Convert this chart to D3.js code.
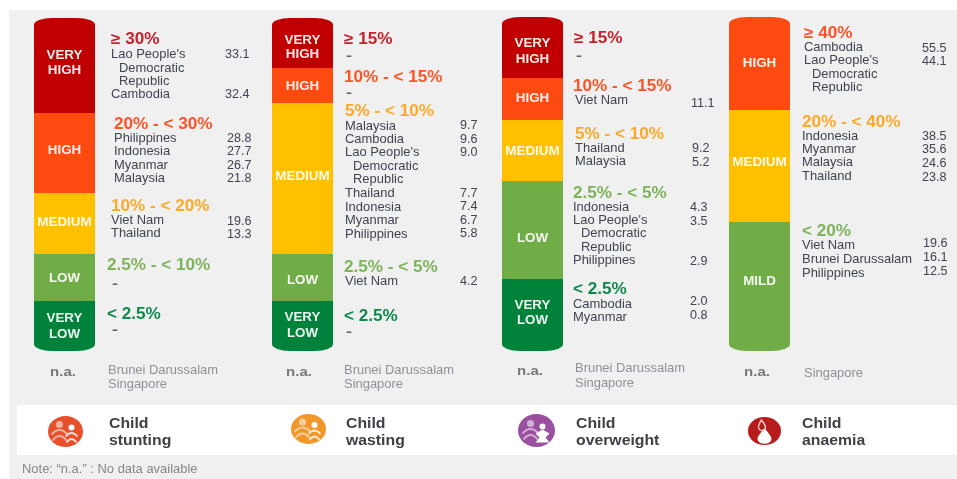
<!DOCTYPE html>
<html><head><meta charset="utf-8">
<script src="https://cdn.jsdelivr.net/npm/d3@7"></script>
<style>
html,body{margin:0;padding:0;background:#fff}
svg{display:block;filter:blur(0.45px)}
text{font-family:"Liberation Sans",Arial,sans-serif}
</style></head><body><div id="c"></div>
<script>
// ---------- data ----------
const LAO = "Lao People's";
const stuntingLevels = ["VERY HIGH","HIGH","MEDIUM","LOW","VERY LOW"];
const stuntingRanges = ["≥ 30%","20% - < 30%","10% - < 20%","2.5% - < 10%","< 2.5%"];
const stuntingCountries = [[LAO,"Cambodia"],["Philippines","Indonesia","Myanmar","Malaysia"],["Viet Nam","Thailand"],[],[]];
const stuntingValues = [[33.1,32.4],[28.8,27.7,26.7,21.8],[19.6,13.3],[],[]];
const stuntingNA = ["Brunei Darussalam","Singapore"];

const wastingLevels = ["VERY HIGH","HIGH","MEDIUM","LOW","VERY LOW"];
const wastingRanges = ["≥ 15%","10% - < 15%","5% - < 10%","2.5% - < 5%","< 2.5%"];
const wastingCountries = [[],[],["Malaysia","Cambodia",LAO,"Thailand","Indonesia","Myanmar","Philippines"],["Viet Nam"],[]];
const wastingValues = [[],[],[9.7,9.6,9.0,7.7,7.4,6.7,5.8],[4.2],[]];
const wastingNA = ["Brunei Darussalam","Singapore"];

const overweightLevels = ["VERY HIGH","HIGH","MEDIUM","LOW","VERY LOW"];
const overweightRanges = ["≥ 15%","10% - < 15%","5% - < 10%","2.5% - < 5%","< 2.5%"];
const overweightCountries = [[],["Viet Nam"],["Thailand","Malaysia"],["Indonesia",LAO,"Philippines"],["Cambodia","Myanmar"]];
const overweightValues = [[],[11.1],[9.2,5.2],[4.3,3.5,2.9],[2.0,0.8]];
const overweightNA = ["Brunei Darussalam","Singapore"];

const anaemiaLevels = ["HIGH","MEDIUM","MILD"];
const anaemiaRanges = ["≥ 40%","20% - < 40%","< 20%"];
const anaemiaCountries = [["Cambodia",LAO],["Indonesia","Myanmar","Malaysia","Thailand"],["Viet Nam","Brunei Darussalam","Philippines"]];
const anaemiaValues = [[55.5,44.1],[38.5,35.6,24.6,23.8],[19.6,16.1,12.5]];
const anaemiaNA = ["Singapore"];

const indicatorNames = [["Child","stunting"],["Child","wasting"],["Child","overweight"],["Child","anaemia"]];
const laoContinuation = ["Democratic","Republic"];
const naLabel = "n.a.";
const noteText = "Note: “n.a.” : No data available";

// ---------- layout & style (not data) ----------
const W = 957, H = 479;
const levelFill = {"VERY HIGH":"#c00000","HIGH":"#fc4a10","MEDIUM":"#ffc000","LOW":"#70ad47","MILD":"#70ad47","VERY LOW":"#00823b"};
const headFill = {"VERY HIGH":"#c9202c","HIGH":"#fb5527","MEDIUM":"#fca92a","LOW":"#7db35a","MILD":"#7db35a","VERY LOW":"#0d8a4c"};
const panels = [
 {levels:stuntingLevels,ranges:stuntingRanges,countries:stuntingCountries,values:stuntingValues,na:stuntingNA,
  barX:34,edges:[18,113,193,254,301,351],naCx:63,naY:372,naX:108,naYs:[370,384],
  labelYs:[[54,69],[149],[221],[277],[317,333]],
  heads:[[111,38],[114,123],[111,205],[107,264],[107,313.5]],
  rowX:[111,114,111,111,111],valXs:[225,227,227,0,0],
  rowYs:[[54,94],[138,151,165,178],[220,233],[],[]],valYs:[[54,94],[138,151,165,178],[221,234],[],[]],dashYs:[0,0,0,284,330],
  icon:{cx:65.5,cy:431.5,rx:17.5,ry:15.5,fill:"#e8502c",kind:"child"},nameX:109},
 {levels:wastingLevels,ranges:wastingRanges,countries:wastingCountries,values:wastingValues,na:wastingNA,
  barX:272,edges:[18,68,103,254,301,351],naCx:299,naY:372,naX:344,naYs:[370,384],
  labelYs:[[39,53],[85],[175],[279],[316,332]],
  heads:[[344,38],[344,76],[345,110],[344,266],[344,315]],
  rowX:[345,345,345,345,345],valXs:[0,0,460,460,0],
  rowYs:[[],[],[126,139,152,193,207,220,234],[280.5],[]],valYs:[[],[],[124.5,138.5,152,193,206,219.5,233],[280.5],[]],dashYs:[56,93,0,0,332],
  icon:{cx:308.5,cy:429,rx:17.5,ry:15,fill:"#f2962a",kind:"child"},nameX:346},
 {levels:overweightLevels,ranges:overweightRanges,countries:overweightCountries,values:overweightValues,na:overweightNA,
  barX:502,edges:[17,78,120,181,279,351],naCx:530,naY:371,naX:575,naYs:[368,383],
  labelYs:[[42,58],[97],[150],[237],[304,319]],
  heads:[[574,37],[573,85],[575,133],[573,192],[573,288]],
  rowX:[575,575,575,573,573],valXs:[0,691,692,690,690],
  rowYs:[[],[99.5],[147.5,161],[206.5,219.5,260],[303.5,317]],valYs:[[],[103],[148,162],[207,221,261],[301,314.5]],dashYs:[56,0,0,0,0],
  icon:{cx:536.5,cy:430.5,rx:18.5,ry:16.5,fill:"#9b4f9f",kind:"solid"},nameX:576},
 {levels:anaemiaLevels,ranges:anaemiaRanges,countries:anaemiaCountries,values:anaemiaValues,na:anaemiaNA,
  barX:729,edges:[17,110,222,351],naCx:757,naY:372,naX:804,naYs:[373],
  labelYs:[[62],[161],[280]],
  heads:[[804,32],[802,121],[802,230]],
  rowX:[804,802,802],valXs:[922,922,923],
  rowYs:[[46.5,60],[135.5,149,162,175.5],[245,258.5,273]],valYs:[[47.5,61],[135.5,149,163,176.5],[242.5,257,271]],dashYs:[0,0,0],
  icon:{cx:764.5,cy:431,rx:16.5,ry:14,fill:"#b71c1c",kind:"drop"},nameX:802}
];
const barW = 61;
const textCol = "#3f4452";

const svg = d3.select("#c").append("svg").attr("width",W).attr("height",H);
svg.append("rect").attr("x",9).attr("y",10).attr("width",W-9).attr("height",H-10).attr("fill","#f0f0f0");
svg.append("rect").attr("x",17).attr("y",405).attr("width",W-17).attr("height",50).attr("fill","#fff");

const defs = svg.append("defs");

// sx: the source picture is slightly stretched sideways, so glyphs are widened rather than spaced
function txt(g,x,y,s,size,fill,weight,anchor,sx){
  return g.append("text").attr("transform",`translate(${x},${y}) scale(${sx||1},1)`)
    .attr("dy","0.35em").attr("font-size",size)
    .attr("fill",fill).attr("font-weight",weight||"normal").attr("text-anchor",anchor||"start")
    .text(s);
}

function drawIcon(g,o){
  const ic = g.append("g").attr("transform",`translate(${o.cx},${o.cy})`);
  ic.append("ellipse").attr("rx",o.rx).attr("ry",o.ry).attr("fill",o.fill);
  if(o.kind==="drop"){
    ic.append("path").attr("d","M0,-3 C3,1 7,5 7,8 A6.5,4.5 0 0 1 -7,8 C-7,5 -3,1 0,-3Z").attr("fill","#fff");
    ic.append("path").attr("d","M-3,-11 C-1,-8 1,-6 1,-4 A3,3 0 0 1 -6,-4 C-6,-6 -5,-8 -3,-11Z").attr("fill","none").attr("stroke","#f3c9c9").attr("stroke-width",1.4);
  } else {
    ic.append("circle").attr("cx",-6).attr("cy",-7).attr("r",3.6).attr("fill","#fff").attr("fill-opacity",0.55);
    ic.append("path").attr("d","M-14,3 Q-6,-6 2,3 M-13,9 Q-6,0 1,9").attr("fill","none").attr("stroke","#fff").attr("stroke-opacity",0.55).attr("stroke-width",2);
    ic.append("circle").attr("cx",6).attr("cy",-4).attr("r",3).attr("fill","#fff");
    if(o.kind==="solid"){
      ic.append("path").attr("d","M-1,3 L6,-1 L13,3 L9,7 L13,12 L-1,12 L3,7Z").attr("fill","#fff");
    } else {
      ic.append("path").attr("d","M0,5 Q6,-2 12,5 M1,11 Q6,4 11,11").attr("fill","none").attr("stroke","#fff").attr("stroke-opacity",0.8).attr("stroke-width",1.8);
    }
  }
}

panels.forEach((p,pi)=>{
  const g = svg.append("g");
  // piecewise band scale: band index -> pixel edge
  const y = d3.scaleLinear().domain(d3.range(p.edges.length)).range(p.edges);
  const id = "clip"+pi;
  defs.append("clipPath").attr("id",id).append("rect")
    .attr("x",p.barX).attr("y",y(0)).attr("width",barW).attr("height",y(p.levels.length)-y(0))
    .attr("rx",18).attr("ry",7);
  g.append("g").attr("clip-path",`url(#${id})`).selectAll("rect").data(p.levels).join("rect")
    .attr("x",p.barX).attr("width",barW)
    .attr("y",(d,i)=>y(i)).attr("height",(d,i)=>y(i+1)-y(i))
    .attr("fill",d=>levelFill[d]);

  p.levels.forEach((lv,i)=>{
    lv.split(" ").forEach((w,k)=>txt(g,p.barX+barW/2,p.labelYs[i][k],w,13,"#fff","bold","middle",1.03).attr("fill-opacity",0.92));
    txt(g,p.heads[i][0],p.heads[i][1],p.ranges[i],15.8,headFill[lv],"bold","start",1.085);
    if(p.countries[i].length===0){
      txt(g,p.rowX[i]+1,p.dashYs[i],"-",12,"#5a5e69","bold","start",1.5);
    }
    p.countries[i].forEach((c,k)=>{
      const ry = p.rowYs[i][k];
      txt(g,p.rowX[i],ry,c,12,textCol,"normal","start",1.08);
      if(c===LAO){
        laoContinuation.forEach((l,m)=>txt(g,p.rowX[i]+8,ry+13.5*(m+1),l,12,textCol,"normal","start",1.08));
      }
      txt(g,p.valXs[i],p.valYs[i][k],d3.format(".1f")(p.values[i][k]),12,textCol,"normal","start",1.05);
    });
  });

  txt(g,p.naCx,p.naY,naLabel,12,"#77777c","bold","middle",1.25);
  p.na.forEach((n,k)=>txt(g,p.naX,p.naYs[k],n,12,"#8e9099","normal","start",1.08));

  drawIcon(g,p.icon);
  indicatorNames[pi].forEach((s,k)=>txt(g,p.nameX,422.5+k*17,s,14.5,"#404048","bold","start",1.09));
});

txt(svg,22,469,noteText,12,"#85878d","normal","start",1.08);
</script></body></html>
